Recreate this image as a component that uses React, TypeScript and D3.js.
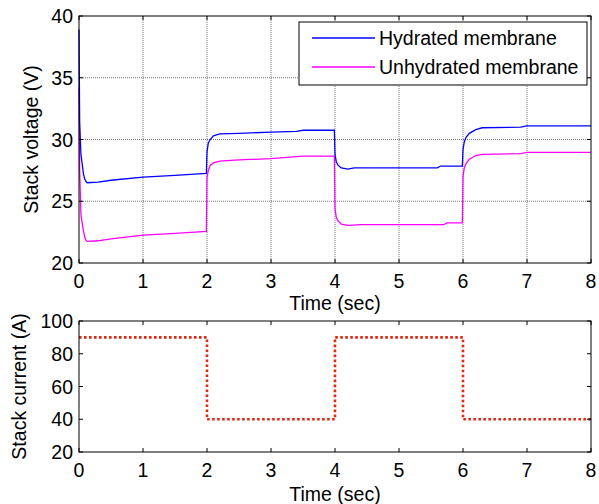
import React from "react";
import * as d3 from "d3";

const hydT = [0, 0.01, 0.03, 0.05, 0.07, 0.09, 0.11, 0.13, 0.3, 0.5, 1.0, 1.5, 1.99, 2.0, 2.02, 2.05, 2.1, 2.2, 2.5, 3.0, 3.4, 3.5, 3.99, 4.0, 4.02, 4.05, 4.1, 4.2, 4.3, 5.6, 5.65, 5.99, 6.0, 6.02, 6.05, 6.1, 6.2, 6.3, 6.9, 7.0, 8.0];
const hydV = [38.9, 31.5, 28.8, 28.0, 27.2, 26.8, 26.6, 26.5, 26.55, 26.7, 26.95, 27.1, 27.25, 29.0, 29.7, 30.0, 30.3, 30.45, 30.5, 30.6, 30.65, 30.75, 30.75, 28.8, 28.2, 27.9, 27.7, 27.6, 27.7, 27.7, 27.85, 27.85, 29.2, 29.8, 30.2, 30.5, 30.8, 30.95, 31.0, 31.1, 31.1];

const unhT = [0, 0.01, 0.03, 0.05, 0.07, 0.09, 0.11, 0.13, 0.3, 0.5, 1.0, 1.5, 1.99, 2.0, 2.02, 2.05, 2.1, 2.2, 2.5, 3.0, 3.5, 3.99, 4.0, 4.02, 4.05, 4.1, 4.2, 4.4, 5.7, 5.75, 5.99, 6.0, 6.02, 6.05, 6.1, 6.2, 6.3, 6.9, 7.0, 8.0];
const unhV = [34.2, 27.5, 24.0, 23.2, 22.6, 22.1, 21.85, 21.75, 21.8, 21.95, 22.25, 22.4, 22.55, 26.9, 27.5, 27.9, 28.1, 28.25, 28.35, 28.45, 28.65, 28.65, 24.4, 23.7, 23.4, 23.15, 23.05, 23.1, 23.1, 23.25, 23.25, 27.0, 27.7, 28.1, 28.4, 28.7, 28.8, 28.85, 28.95, 28.95];

const curT = [0, 2, 2, 4, 4, 6, 6, 8];
const curA = [90, 90, 40, 40, 90, 90, 40, 40];

const xTicks = [0, 1, 2, 3, 4, 5, 6, 7, 8];
const vTicks = [20, 25, 30, 35, 40];
const aTicks = [20, 40, 60, 80, 100];
const legendLabels = ["Hydrated membrane", "Unhydrated membrane"];
const seriesColors = ["#0000ff", "#ff00ff"];

const FONT = "'Liberation Sans', Arial, sans-serif";
const FS = 19.5;

export default function App() {
  const left = 79, right = 591;
  const top1 = 16, bot1 = 263;
  const top2 = 321, bot2 = 452;

  const x = d3.scaleLinear().domain([0, 8]).range([left, right]);
  const yV = d3.scaleLinear().domain([20, 40]).range([bot1, top1]);
  const yA = d3.scaleLinear().domain([20, 100]).range([bot2, top2]);

  const lineV = d3.line<[number, number]>().x(d => x(d[0])).y(d => yV(d[1]));
  const lineA = d3.line<[number, number]>().x(d => x(d[0])).y(d => yA(d[1]));

  const hyd = hydT.map((t, i) => [t, hydV[i]] as [number, number]);
  const unh = unhT.map((t, i) => [t, unhV[i]] as [number, number]);
  const cur = curT.map((t, i) => [t, curA[i]] as [number, number]);

  const tl = 4;

  const frame = (y: d3.ScaleLinear<number, number>, top: number, bot: number, yTicks: number[]) => (
    <g>
      {xTicks.map(t => (
        <g key={"xt" + t}>
          <line x1={x(t)} x2={x(t)} y1={bot} y2={bot - tl} stroke="#000" strokeWidth={1} />
          <line x1={x(t)} x2={x(t)} y1={top} y2={top + tl} stroke="#000" strokeWidth={1} />
          <text x={x(t)} y={bot + 25} textAnchor="middle" fontSize={FS} fontFamily={FONT}>{t}</text>
        </g>
      ))}
      {yTicks.map(v => (
        <g key={"yt" + v}>
          <line x1={left} x2={left + tl} y1={y(v)} y2={y(v)} stroke="#000" strokeWidth={1} />
          <line x1={right} x2={right - tl} y1={y(v)} y2={y(v)} stroke="#000" strokeWidth={1} />
          <text x={left - 6} y={y(v) + 7} textAnchor="end" fontSize={FS} fontFamily={FONT}>{v}</text>
        </g>
      ))}
      <rect x={left} y={top} width={right - left} height={bot - top} fill="none" stroke="#000" strokeWidth={1} />
    </g>
  );

  return (
    <svg width={599} height={504} style={{ position: "absolute", left: 0, top: 0, background: "#fff" }}>
      <rect x={0} y={0} width={599} height={504} fill="#fff" />
      {xTicks.slice(1, -1).map(t => (
        <line key={"gx" + t} x1={x(t)} x2={x(t)} y1={top1} y2={bot1} stroke="#777" strokeWidth={1} strokeDasharray="1,1" />
      ))}
      {vTicks.slice(1, -1).map(v => (
        <line key={"gy" + v} x1={left} x2={right} y1={yV(v)} y2={yV(v)} stroke="#777" strokeWidth={1} strokeDasharray="1,1" />
      ))}
      <path d={lineV(unh) || ""} fill="none" stroke={seriesColors[1]} strokeWidth={1.3} />
      <path d={lineV(hyd) || ""} fill="none" stroke={seriesColors[0]} strokeWidth={1.3} />
      {frame(yV, top1, bot1, vTicks)}
      <rect x={299} y={22} width={288} height={63} fill="#fff" stroke="#000" strokeWidth={1} />
      {legendLabels.map((l, i) => (
        <g key={l}>
          <line x1={312} x2={375} y1={38 + i * 29} y2={38 + i * 29} stroke={seriesColors[i]} strokeWidth={1.3} />
          <text x={379} y={38 + i * 29 + 7} fontSize={FS} fontFamily={FONT}>{l}</text>
        </g>
      ))}
      <text x={(left + right) / 2} y={310} textAnchor="middle" fontSize={FS} fontFamily={FONT}>Time (sec)</text>
      <text transform={`translate(38,${(top1 + bot1) / 2}) rotate(-90)`} textAnchor="middle" fontSize={FS} fontFamily={FONT}>Stack voltage (V)</text>

      <path d={lineA(cur) || ""} fill="none" stroke="#e0280f" strokeWidth={2.6} strokeDasharray="2.6,2.4" />
      {frame(yA, top2, bot2, aTicks)}
      <text x={(left + right) / 2} y={501} textAnchor="middle" fontSize={FS} fontFamily={FONT}>Time (sec)</text>
      <text transform={`translate(26,${(top2 + bot2) / 2}) rotate(-90)`} textAnchor="middle" fontSize={FS} fontFamily={FONT}>Stack current (A)</text>
    </svg>
  );
}
